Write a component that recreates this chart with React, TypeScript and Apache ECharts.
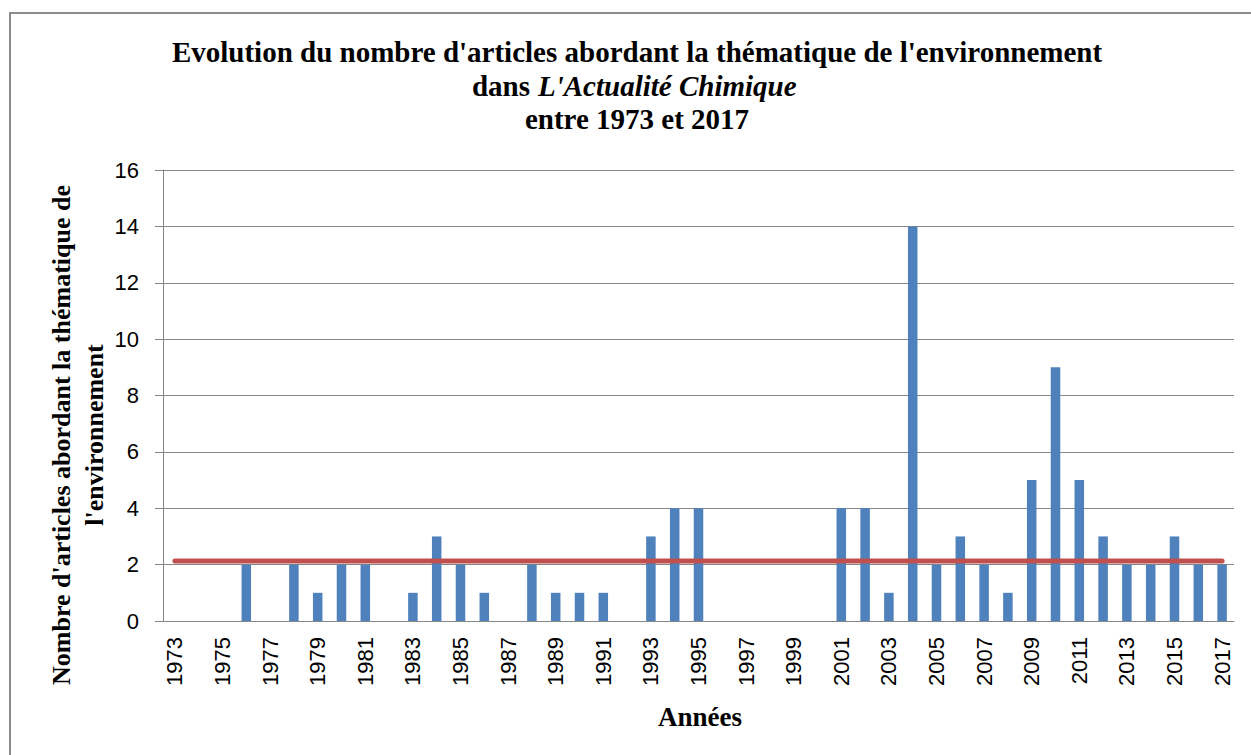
import React, { useEffect, useRef } from "react";
import * as echarts from "echarts";

const years: string[] = [
  "1973","1974","1975","1976","1977","1978","1979","1980","1981","1982",
  "1983","1984","1985","1986","1987","1988","1989","1990","1991","1992",
  "1993","1994","1995","1996","1997","1998","1999","2000","2001","2002",
  "2003","2004","2005","2006","2007","2008","2009","2010","2011","2012",
  "2013","2014","2015","2016","2017",
];
const articleCounts: number[] = [
  0, 0, 0, 2, 0, 2, 1, 2, 2, 0,
  1, 3, 2, 1, 0, 2, 1, 1, 1, 0,
  3, 4, 4, 0, 0, 0, 0, 0, 4, 4,
  1, 14, 2, 3, 2, 1, 5, 9, 5, 3,
  2, 2, 3, 2, 2,
];
const averageValue: number = 2.13;
const averageLine: number[] = years.map(() => averageValue);
const yTicks = { min: 0, max: 16, interval: 2 };

const serif = "'Liberation Serif'";
const sans = "Liberation Sans";

export default function App() {
  const ref = useRef<HTMLDivElement>(null);
  useEffect(() => {
    document.body.style.margin = "0";
    if (!ref.current) return;
    const chart = echarts.init(ref.current, null, { renderer: "svg" });
    chart.setOption({
      animation: false,
      backgroundColor: "#ffffff",
      grid: { left: 163, right: 17, top: 170, bottom: 134, containLabel: false },
      graphic: [
        {
          type: "rect",
          shape: { x: 10, y: 13, width: 1400, height: 900 },
          style: { fill: "none", stroke: "#8c8c8c", lineWidth: 2 },
          silent: true,
        },
        {
          type: "text",
          x: 637,
          y: 52,
          style: {
            text: "Evolution du nombre d'articles abordant la thématique de l'environnement",
            font: `bold 29px ${serif}`,
            fill: "#000",
            align: "center",
            verticalAlign: "middle",
          },
        },
        {
          type: "text",
          x: 530,
          y: 86,
          style: {
            text: "dans",
            font: `bold 29px ${serif}`,
            fill: "#000",
            align: "right",
            verticalAlign: "middle",
          },
        },
        {
          type: "text",
          x: 538,
          y: 86,
          style: {
            text: "L'Actualité Chimique",
            font: `italic bold 29px ${serif}`,
            fill: "#000",
            align: "left",
            verticalAlign: "middle",
          },
        },
        {
          type: "text",
          x: 637,
          y: 119,
          style: {
            text: "entre 1973 et 2017",
            font: `bold 29px ${serif}`,
            fill: "#000",
            align: "center",
            verticalAlign: "middle",
          },
        },
        {
          type: "text",
          x: 78,
          y: 435,
          rotation: Math.PI / 2,
          style: {
            text: "Nombre d'articles abordant la thématique de\nl'environnement",
            font: `bold 26px ${serif}`,
            lineHeight: 33,
            fill: "#000",
            align: "center",
            verticalAlign: "middle",
          },
        },
        {
          type: "text",
          x: 700,
          y: 717,
          style: {
            text: "Années",
            font: `bold 27px ${serif}`,
            fill: "#000",
            align: "center",
            verticalAlign: "middle",
          },
        },
      ],
      xAxis: {
        type: "category",
        data: years,
        boundaryGap: true,
        axisLine: { show: true, lineStyle: { color: "#868686", width: 1 } },
        axisTick: { show: false },
        axisLabel: {
          rotate: 90,
          interval: 1,
          margin: 16,
          color: "#000",
          fontFamily: sans,
          fontSize: 22,
        },
      },
      yAxis: {
        type: "value",
        min: yTicks.min,
        max: yTicks.max,
        interval: yTicks.interval,
        axisLine: { show: true, lineStyle: { color: "#868686", width: 1 } },
        axisTick: { show: true, length: 8, lineStyle: { color: "#868686" } },
        splitLine: { show: true, lineStyle: { color: "#868686", width: 1 } },
        axisLabel: {
          margin: 24,
          color: "#000",
          fontFamily: sans,
          fontSize: 22,
        },
      },
      series: [
        {
          type: "bar",
          data: articleCounts,
          barWidth: "40%",
          itemStyle: { color: "#4F81BD" },
          z: 2,
        },
        {
          type: "line",
          data: averageLine,
          symbol: "none",
          lineStyle: { color: "#C0504D", width: 5, cap: "round" },
          z: 3,
        },
      ],
    });
    return () => chart.dispose();
  }, []);
  return <div ref={ref} style={{ width: 1251, height: 755 }} />;
}
